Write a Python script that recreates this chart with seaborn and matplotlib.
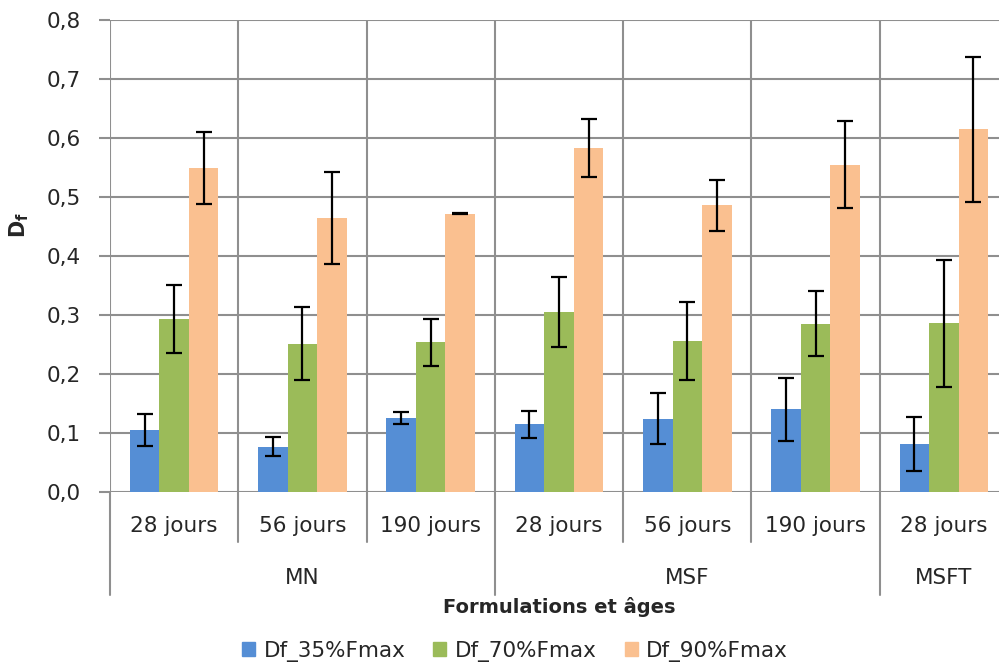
import numpy as np
import pandas as pd
import seaborn as sns
import matplotlib.pyplot as plt
from matplotlib import transforms

# Données
groups = ["MN", "MN", "MN", "MSF", "MSF", "MSF", "MSFT"]
ages = ["28 jours", "56 jours", "190 jours", "28 jours", "56 jours", "190 jours", "28 jours"]
series = ["Df_35%Fmax", "Df_70%Fmax", "Df_90%Fmax"]

df_35 = [0.105, 0.077, 0.125, 0.115, 0.124, 0.140, 0.081]
df_70 = [0.293, 0.251, 0.254, 0.305, 0.256, 0.285, 0.286]
df_90 = [0.549, 0.465, 0.472, 0.583, 0.486, 0.555, 0.615]

err_35 = [0.027, 0.016, 0.010, 0.023, 0.043, 0.054, 0.046]
err_70 = [0.058, 0.062, 0.040, 0.059, 0.066, 0.055, 0.108]
err_90 = [0.061, 0.078, 0.001, 0.049, 0.043, 0.073, 0.123]

colors = ["#558ed5", "#9bbb59", "#fac090"]
grid_color = "#8f8f8f"
fs = 15.5

sns.set_style("white")
plt.rcParams["font.family"] = ["DejaVu Sans"]
plt.rcParams["mathtext.fontset"] = "dejavusans"

keys = [g + "|" + a for g, a in zip(groups, ages)]
rows = []
for s, vals in zip(series, [df_35, df_70, df_90]):
    for k, v in zip(keys, vals):
        rows.append({"cat": k, "serie": s, "Df": v})
data = pd.DataFrame(rows)

W, H = 999, 664
fig = plt.figure(figsize=(W / 100, H / 100), dpi=100)
ax = fig.add_axes([110 / W, 1 - 492 / H, 898 / W, (492 - 20) / H])

sns.barplot(data=data, x="cat", y="Df", hue="serie", order=keys, hue_order=series,
            palette=colors, width=0.69, gap=0, errorbar=None, saturation=1,
            linewidth=0, ax=ax, legend=False)

# Barres d'erreur posées sur les barres dessinées par seaborn
errs = err_35 + err_70 + err_90
vals = df_35 + df_70 + df_90
for p, v, e in zip(ax.patches, vals, errs):
    xc = p.get_x() + p.get_width() / 2
    ax.errorbar(xc, v, yerr=e, fmt="none", ecolor="black", elinewidth=1.6,
                capsize=6, capthick=1.6, zorder=5)

ax.set_xlim(-0.5, len(keys) - 0.5)
ax.set_ylim(0, 0.8)
ax.set_yticks(np.arange(0, 0.81, 0.1))
ax.set_yticklabels([f"{t:.1f}".replace(".", ",") for t in np.arange(0, 0.81, 0.1)])

for s in ax.spines.values():
    s.set_visible(False)

# Quadrillage façon Excel
ax.set_axisbelow(True)
ax.yaxis.grid(True, color=grid_color, linewidth=1.5)
for b in np.arange(-0.5, len(keys), 1.0):
    ax.axvline(b, color=grid_color, linewidth=1.5, zorder=0)

ax.tick_params(axis="y", length=8, width=1.5, color=grid_color, pad=13, labelsize=fs,
               left=True)
ax.set_xticks(range(len(keys)))
ax.set_xticklabels(ages)
ax.tick_params(axis="x", length=0, pad=17, labelsize=fs)
ax.set_xlabel("")
ax.set_ylabel("")

# Séparateurs sous l'axe (âges et formulations)
trans = transforms.blended_transform_factory(ax.transData, ax.transAxes)
short = -50 / 472
long = -103 / 472
for i in range(len(keys) + 1):
    b = i - 0.5
    if i == 0 or i == len(keys) or groups[i] != groups[i - 1]:
        ax.plot([b, b], [0, long], color=grid_color, lw=1.5, transform=trans, clip_on=False)
    else:
        ax.plot([b, b], [0, short], color=grid_color, lw=1.5, transform=trans, clip_on=False)

# Étiquettes de formulation
for g in dict.fromkeys(groups):
    idx = [i for i, x in enumerate(groups) if x == g]
    ax.text(np.mean(idx), -86 / 472, g, transform=trans, ha="center", va="center",
            fontsize=fs)

fig.text(559 / W, 1 - 607 / H, "Formulations et âges", ha="center", va="center",
         fontsize=14, fontweight="bold")
fig.text(19 / W, 1 - 225 / H, r"$\mathbf{D_f}$", ha="center", va="center",
         rotation=90, fontsize=15)

handles = [plt.Rectangle((0, 0), 1, 1, color=c) for c in colors]
fig.legend(handles, series, loc="center", bbox_to_anchor=(515 / W, 1 - 651 / H),
           ncol=3, frameon=False, fontsize=fs, handlelength=0.6, handleheight=0.6,
           handletextpad=0.4, columnspacing=1.3)

fig.savefig("out.png", dpi=100)
